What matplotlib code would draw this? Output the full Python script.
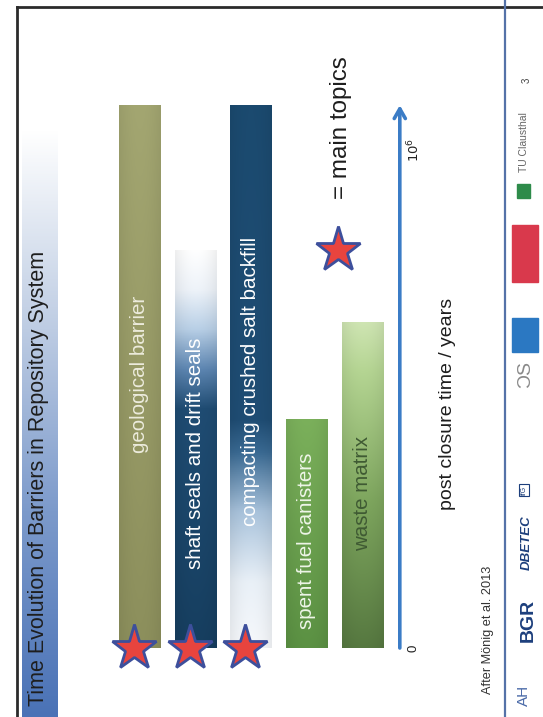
import numpy as np
import matplotlib
matplotlib.use("Agg")
import matplotlib.pyplot as plt
from matplotlib.colors import LinearSegmentedColormap
from matplotlib.lines import Line2D
from matplotlib.patches import Rectangle

plt.rcParams['font.family'] = ['Liberation Sans', 'DejaVu Sans']

W, H = 543, 717

# ---- data: barriers vs post closure time (1.0 == 10^6 years) ----
barriers   = ["geological barrier", "shaft seals and drift seals",
              "compacting crushed salt backfill", "spent fuel canisters", "waste matrix"]
t_start    = [0.0, 0.0, 0.0, 0.0, 0.0]
t_end      = [1.09, 0.80, 1.09, 0.46, 0.655]
main_topic = [True, True, True, False, False]
time_ticks = [0.0, 1.0]
time_ticklabels = ["0", "$10^6$"]
t_arrow_end = 1.09

title = "Time Evolution of Barriers in Repository System"
source = "After Mönig et al. 2013"

# ---- styles ----
grad = [
    [(0.0, '#8c8f5c'), (1.0, '#a3a671')],
    [(0.0, '#163e5f'), (0.60, '#1f4c73'), (0.70, '#5d86b2'), (0.80, '#b8cfe6'), (0.90, '#eef3f9'), (1.0, '#ffffff')],
    [(0.0, '#f6f8fb'), (0.12, '#e9f0f7'), (0.25, '#a9c3dc'), (0.36, '#3a6a93'), (0.42, '#1f4d74'), (1.0, '#1b4a6f')],
    [(0.0, '#5b9143'), (1.0, '#7bb05b')],
    [(0.0, '#567840'), (0.45, '#7ea65e'), (0.85, '#b5d593'), (1.0, '#cfe5b3')],
]
label_t   = [0.55, 0.39, 0.535, 0.215, 0.31]
label_col = ['#ecebdc', 'white', 'white', '#eef5e8', '#3f5a33']
bar_w = 0.74

fig = plt.figure(figsize=(W / 100, H / 100), dpi=100)
fig.patch.set_facecolor('white')

def fx(x): return x / W
def fy(y): return 1 - y / H

# frame of the slide
fig.add_artist(Line2D([fx(17), fx(17)], [fy(7), 0], color='#2b2b2b', lw=2))
fig.add_artist(Line2D([fx(17), 1], [fy(7), fy(7)], color='#2b2b2b', lw=2))

# title strip with gradient
sax = fig.add_axes([fx(22), 0, fx(57) - fx(22), fy(130)])
strip = LinearSegmentedColormap.from_list('strip', [(0, '#4a72b6'), (0.35, '#7c9acb'),
                                                    (0.7, '#c5d2e6'), (1.0, '#ffffff')])
sax.imshow(np.linspace(0, 1, 256)[:, None], cmap=strip, aspect='auto', origin='lower',
           extent=[0, 1, 0, 1])
sax.axis('off')
fig.text(fx(39), fy(478), title, rotation=90, ha='center', va='center',
         fontsize=15.5, color='#1e1e1e')

# main chart axes: x = barrier index, y = post closure time
ax = fig.add_axes([111.6 / W, (H - 697.8) / H, 306.6 / W, 622.5 / H])
ax.axis('off')

for i, (name, t0, t1) in enumerate(zip(barriers, t_start, t_end)):
    bar = ax.bar(i, t1 - t0, bottom=t0, width=bar_w, color='none', edgecolor='none')[0]
    cmap = LinearSegmentedColormap.from_list(f'b{i}', grad[i])
    col = cmap(np.linspace(0, 1, 256))[:, :3]
    shade = 1 - 0.06 * np.abs(np.linspace(-1, 1, 24)) ** 2
    img = col[:, None, :] * shade[None, :, None]
    im = ax.imshow(np.clip(img, 0, 1), extent=[i - bar_w / 2, i + bar_w / 2, t0, t1],
                   origin='lower', aspect='auto', zorder=2)
    im.set_clip_path(bar)
    ax.text(i, label_t[i], name, rotation=90, ha='center', va='center',
            fontsize=14.8, color=label_col[i], zorder=3)
    if main_topic[i]:
        ax.plot(i - 0.1, t0, marker='*', ms=34, mfc='#e8443e', mec='#3d4f9c',
                mew=2, zorder=4, clip_on=False)

ax.set_xlim(-0.5, 5.0)
ax.set_ylim(-0.1, 1.15)

# legend star
ax.plot(3.56, 0.80, marker='*', ms=34, mfc='#e8443e', mec='#3d4f9c', mew=2, zorder=4)
ax.text(3.62, 1.045, "= main topics", rotation=90, ha='center', va='center',
        fontsize=17.4, color='#1e1e1e')

# time arrow
xa = 4.67
ax.annotate('', xy=(xa, t_arrow_end), xytext=(xa, time_ticks[0]),
            arrowprops=dict(arrowstyle='->,head_length=0.7,head_width=0.4',
                            color='#3b7cc6', lw=2.6, shrinkA=0, shrinkB=0))
for t, lab in zip(time_ticks, time_ticklabels):
    ax.text(xa + 0.25, t, lab, rotation=90, ha='center', va='center',
            fontsize=9.5, color='#222222')
ax.text(5.52, 0.49, "post closure time / years", rotation=90, ha='center', va='center',
        fontsize=14, color='#1e1e1e', clip_on=False)

fig.text(fx(488), fy(630), source, rotation=90, ha='center', va='center',
         fontsize=9.2, color='#333333')

# footer with partner logos
fig.add_artist(Line2D([fx(505), fx(505)], [0, 1], color='#5572a8', lw=1.6))
fig.text(fx(524), fy(695), "AH", rotation=90, ha='center', va='center',
         fontsize=11, color='#4a6aa8')
fig.text(fx(528), fy(620), "BGR", rotation=90, ha='center', va='center',
         fontsize=14, fontweight='bold', color='#1d3f7c')
fig.text(fx(527), fy(543), "DBETEC", rotation=90, ha='center', va='center',
         fontsize=9.5, fontweight='bold', style='italic', color='#1d3f7c')
fig.text(fx(524), fy(490), "ifG", rotation=90, ha='center', va='center', fontsize=5,
         color='#1d3f7c', bbox=dict(boxstyle='square,pad=0.2', fc='white', ec='#1d3f7c', lw=0.8))
fig.text(fx(526), fy(375), "ƆS", rotation=90, ha='center', va='center',
         fontsize=14, color='#8a8a8a')
fig.add_artist(Rectangle((fx(512), fy(352)), fx(538) - fx(512), (352 - 318) / H,
                         transform=fig.transFigure, color='#2b78c2'))
fig.add_artist(Rectangle((fx(512), fy(282)), fx(538) - fx(512), (282 - 225) / H,
                         transform=fig.transFigure, color='#d9394c'))
fig.add_artist(Rectangle((fx(517), fy(198)), fx(530) - fx(517), (198 - 184) / H,
                         transform=fig.transFigure, color='#2e8b4a'))
fig.text(fx(524), fy(142), "TU Clausthal", rotation=90, ha='center', va='center',
         fontsize=7.5, color='#666666')
fig.text(fx(527), fy(80), "3", rotation=90, ha='center', va='center',
         fontsize=7, color='#444444')

fig.savefig("out.png", dpi=100, facecolor='white')
